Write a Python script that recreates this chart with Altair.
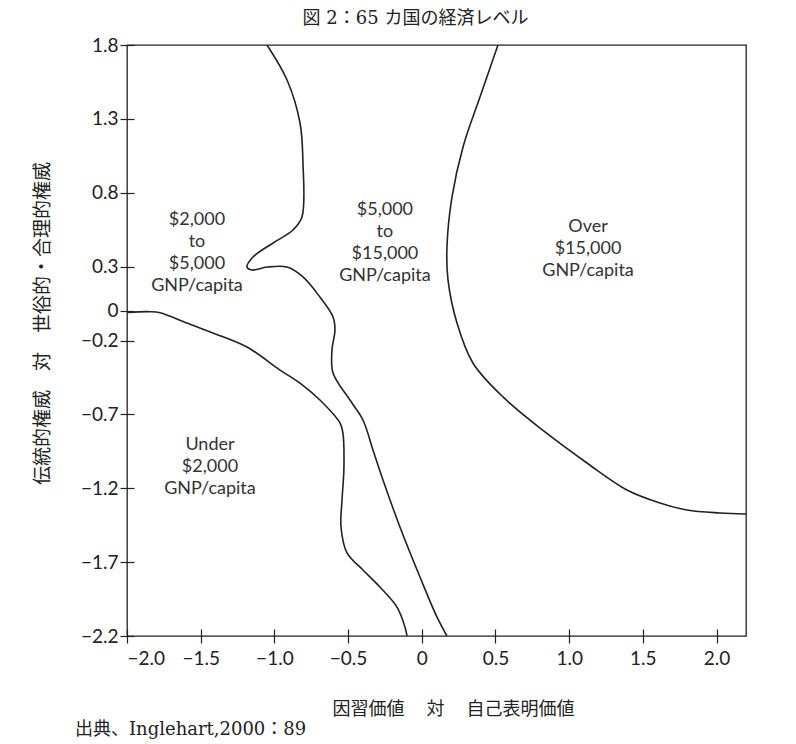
import altair as alt
import pandas as pd

# ---- data (data units) ----
title_text = "図 2：65 カ国の経済レベル"
x_title = "因習価値　 対　 自己表明価値"
y_title = "伝統的権威　対　世俗的・合理的権威"
source_text = "出典、Inglehart,2000：89"

x_ticks = [-2.0, -1.5, -1.0, -0.5, 0.0, 0.5, 1.0, 1.5, 2.0]
y_ticks = [1.8, 1.3, 0.8, 0.3, 0.0, -0.2, -0.7, -1.2, -1.7, -2.2]

# boundary between $2,000-5,000 and $5,000-15,000 (continues down to the bottom)
a_x = [-1.050, -0.914, -0.826, -0.806, -0.813, -0.874, -1.009, -1.145, -1.186,
       -1.152, -1.050, -0.914, -0.806, -0.691, -0.602, -0.589, -0.609, -0.602,
       -0.487, -0.399, -0.331, -0.263, -0.148, -0.012, 0.103, 0.171]
a_y = [1.800, 1.563, 1.272, 1.001, 0.636, 0.548, 0.460, 0.365, 0.297,
       0.277, 0.297, 0.297, 0.230, 0.094, -0.041, -0.129, -0.264, -0.420,
       -0.603, -0.738, -0.941, -1.144, -1.462, -1.801, -2.071, -2.200]

# boundary of Under $2,000
b_x = [-2.000, -1.844, -1.776, -1.593, -1.417, -1.186, -0.962, -0.826, -0.691,
       -0.555, -0.535, -0.528, -0.541, -0.548, -0.507, -0.399, -0.284, -0.168,
       -0.114, -0.100]
b_y = [-0.010, -0.005, -0.012, -0.082, -0.149, -0.244, -0.400, -0.488, -0.603,
       -0.758, -0.826, -1.056, -1.280, -1.462, -1.638, -1.753, -1.868, -2.004,
       -2.139, -2.200]

# boundary of Over $15,000
c_x = [0.517, 0.395, 0.280, 0.205, 0.171, 0.178, 0.239, 0.347, 0.551, 0.836,
       1.121, 1.392, 1.616, 1.799, 2.023, 2.200]
c_y = [1.800, 1.448, 1.110, 0.771, 0.433, 0.210, -0.082, -0.352, -0.582, -0.819,
       -1.029, -1.212, -1.300, -1.347, -1.367, -1.374]

label_text = ["$2,000\nto\n$5,000\nGNP/capita",
              "$5,000\nto\n$15,000\nGNP/capita",
              "Over\n$15,000\nGNP/capita",
              "Under\n$2,000\nGNP/capita"]
label_x = [-1.525, -0.250, 1.128, -1.437]
label_y = [0.616, 0.683, 0.568, -0.907]   # first line of each label

# ---- tables ----
rows = []
for name, xs, ys in (("a", a_x, a_y), ("b", b_x, b_y), ("c", c_x, c_y)):
    for i, (xv, yv) in enumerate(zip(xs, ys)):
        rows.append({"curve": name, "i": i, "x": xv, "y": yv})
curves = pd.DataFrame(rows)
labels = pd.DataFrame({"x": label_x, "y": label_y, "t": label_text})
src = pd.DataFrame({"t": [source_text]})

W, H = 619, 591
xs = alt.Scale(domain=[-2.0, 2.2], nice=False, zero=False)
ys = alt.Scale(domain=[-2.2, 1.8], nice=False, zero=False)
lab_expr = "datum.value == 0 ? '0' : format(datum.value, '.1f')"

lines = alt.Chart(curves).mark_line(
    interpolate="catmull-rom", color="#222222", strokeWidth=1.6, clip=True
).encode(
    x=alt.X("x:Q", scale=xs, axis=alt.Axis(
        values=x_ticks, labelExpr=lab_expr, title=x_title,
        titleX=453 - 127, titleY=80,
        titleBaseline="middle", titleAlign="center", titleFontSize=18)),
    y=alt.Y("y:Q", scale=ys, axis=alt.Axis(
        values=y_ticks, labelExpr=lab_expr, title=y_title,
        titleX=42 - 134, titleY=323 - 45, titleBaseline="middle",
        titleAlign="center", titleAngle=-90, titleFontSize=19)),
    detail="curve:N",
    order="i:Q",
)

texts = alt.Chart(labels).mark_text(
    font="Lato", fontSize=18, color="#333333", lineBreak="\n",
    lineHeight=22, align="center", baseline="middle"
).encode(x=alt.X("x:Q", scale=xs), y=alt.Y("y:Q", scale=ys), text="t:N")

source = alt.Chart(src).mark_text(
    font="DejaVu Serif, Noto Sans CJK JP", fontSize=18, color="#222222",
    align="left", baseline="middle"
).encode(x=alt.value(75 - 127), y=alt.value(730 - 45), text="t:N")

chart = alt.layer(lines, texts, source).properties(
    width=W, height=H,
    padding={"left": 119, "top": 37, "right": 42, "bottom": 112},
    autosize=alt.AutoSizeParams(type="none"),
    title=alt.TitleParams(
        text=title_text, font="DejaVu Serif, Noto Sans CJK JP", fontSize=18,
        fontWeight="normal", color="#222222", anchor="middle", dx=-21, offset=8),
).configure_view(
    stroke="#222222", strokeWidth=1.3
).configure_axis(
    grid=False, domain=False, offset=-7, tickSize=14, tickColor="#222222",
    tickWidth=1.2, labelFont="Lato", labelFontSize=19, labelColor="#222222",
    titleFont="Noto Sans CJK JP", titleFontWeight="normal",
    titleColor="#222222"
).configure_axisX(
    labelPadding=6
).configure_axisY(
    labelPadding=2
)

chart.save("out.html", embed_options={"renderer": "svg", "actions": False})
